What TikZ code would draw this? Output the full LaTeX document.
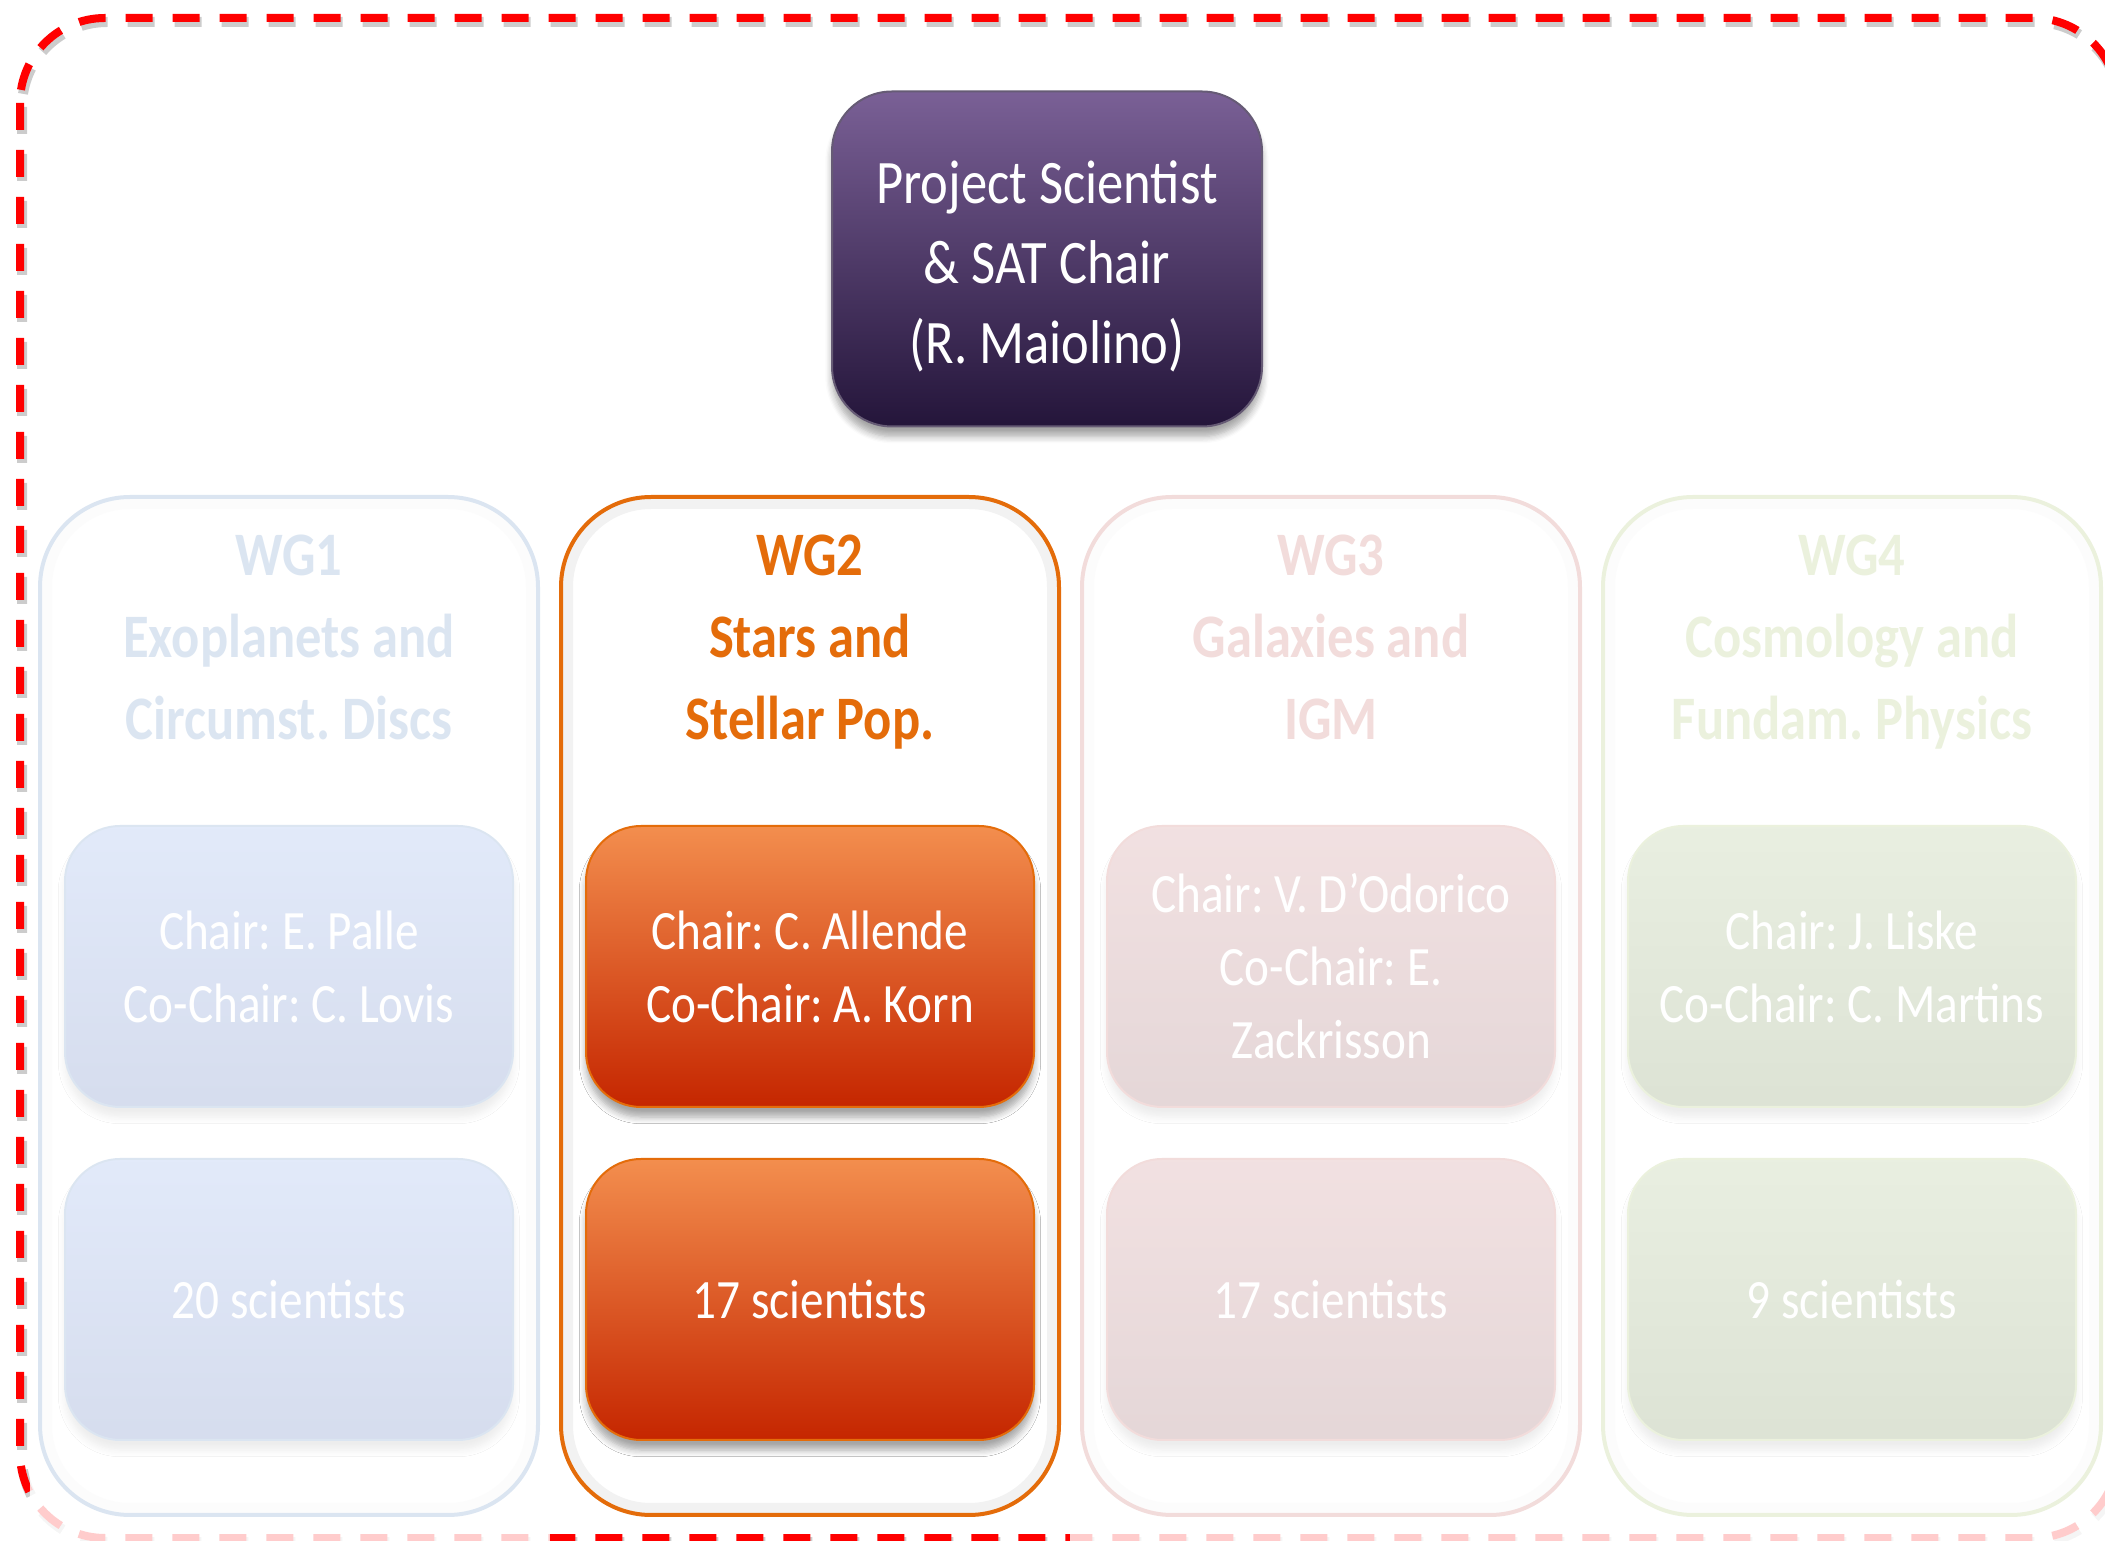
\documentclass[tikz,border=0pt]{standalone}
\usepackage{fontspec}
\setmainfont{Carlito}[FakeStretch=0.85]
\frenchspacing
\usetikzlibrary{positioning, shadows.blur}

% theme colours
\definecolor{psTop}{RGB}{122,96,150}
\definecolor{psBot}{RGB}{36,21,58}
\definecolor{blueLine}{RGB}{79,129,189}
\definecolor{blueTop}{RGB}{110,150,230}
\definecolor{blueBot}{RGB}{50,85,170}
\definecolor{orangeLine}{RGB}{228,108,10}
\definecolor{orangeTop}{RGB}{243,142,78}
\definecolor{orangeBot}{RGB}{197,38,0}
\definecolor{redLine}{RGB}{192,80,77}
\definecolor{redTop}{RGB}{190,105,108}
\definecolor{redBot}{RGB}{125,55,60}
\definecolor{greenLine}{RGB}{155,187,89}
\definecolor{greenTop}{RGB}{145,175,105}
\definecolor{greenBot}{RGB}{85,115,45}
\definecolor{outline}{RGB}{255,0,0}

\tikzset{
	every node/.style={align=center},
	boxshadow/.style={blur shadow={shadow xshift=0mm, shadow yshift=-1mm, shadow blur steps=6, shadow opacity=35}},
	psbox/.style={rounded corners=6mm, minimum width=43mm, minimum height=33.5mm,
		top color=psTop, bottom color=psBot, draw=psBot!70, line width=0.2mm,
		text=white, text height=21.8mm, boxshadow, font=\fontsize{17.6}{22.8}\selectfont},
	wgbox/.style={draw=#1, line width=0.4mm, rounded corners=9mm, fill=white,
		minimum width=49.8mm, minimum height=101.8mm,
		path picture={\draw[black, opacity=0.05, line width=2.4mm, rounded corners=9mm]
			(path picture bounding box.south west) rectangle (path picture bounding box.north east);}},
	wgtitle/.style={text=#1, inner sep=0pt, font=\bfseries\fontsize{17.6}{23.4}\selectfont},
	panel/.style={rounded corners=5.5mm, minimum width=44.8mm, minimum height=28.1mm,
		top color=#1Top, bottom color=#1Bot, draw=#1Line, line width=0.2mm,
		text=white, boxshadow, font=\fontsize{15.8}{20.8}\selectfont},
	dashline/.style={line width=0.8mm, dash pattern=on 2.7mm off 2mm, rounded corners=8.5mm},
	fade/.style={fill=white, opacity=0.8}
}

\begin{document}
\begin{tikzpicture}[x=0.1mm, y=-0.1mm]
	\useasboundingbox (0,0) rectangle (2105,1541);

	% dashed frame round the team
	\draw[dashline, black, opacity=0.2, line width=1mm] (22,22) rectangle (2120,1542);
	\draw[dashline, outline] (20,18) rectangle (2118,1538);

	\node[psbox] (ps) at (1047,259) {Project Scientist\\ \& SAT Chair\\ (R. Maiolino)};

	% working groups
	\node[wgbox=blueLine]   (wg1) at (289,1006) {};
	\node[wgbox=orangeLine] (wg2) [right=1.9mm of wg1] {};
	\node[wgbox=redLine]    (wg3) [right=1.9mm of wg2] {};
	\node[wgbox=greenLine]  (wg4) [right=1.9mm of wg3] {};

	\node[wgtitle=blueLine]   (t1) [below=3.9mm of wg1.north] {WG1\\ Exoplanets and\\ Circumst. Discs};
	\node[wgtitle=orangeLine] (t2) [below=3.9mm of wg2.north] {WG2\\ Stars and\\ Stellar Pop.};
	\node[wgtitle=redLine]    (t3) [below=3.9mm of wg3.north] {WG3\\ Galaxies and\\ IGM};
	\node[wgtitle=greenLine]  (t4) [below=3.9mm of wg4.north] {WG4\\ Cosmology and\\ Fundam. Physics};

	\node[panel=blue]   (ch1) [below=33mm of wg1.north] {Chair: E. Palle\\ Co-Chair: C. Lovis};
	\node[panel=orange] (ch2) [below=33mm of wg2.north] {Chair: C. Allende\\ Co-Chair: A. Korn};
	\node[panel=red]    (ch3) [below=33mm of wg3.north] {Chair: V. D’Odorico\\ Co-Chair: E.\\ Zackrisson};
	\node[panel=green]  (ch4) [below=33mm of wg4.north] {Chair: J. Liske\\ Co-Chair: C. Martins};

	\node[panel=blue]   (mb1) [below=5mm of ch1] {20 scientists};
	\node[panel=orange] (mb2) [below=5mm of ch2] {17 scientists};
	\node[panel=red]    (mb3) [below=5mm of ch3] {17 scientists};
	\node[panel=green]  (mb4) [below=5mm of ch4] {9 scientists};

	% grey out all groups but WG2
	\fill[fade] (30,470) rectangle (550,1545);
	\fill[fade] (1070,470) rectangle (2105,1545);
\end{tikzpicture}
\end{document}
